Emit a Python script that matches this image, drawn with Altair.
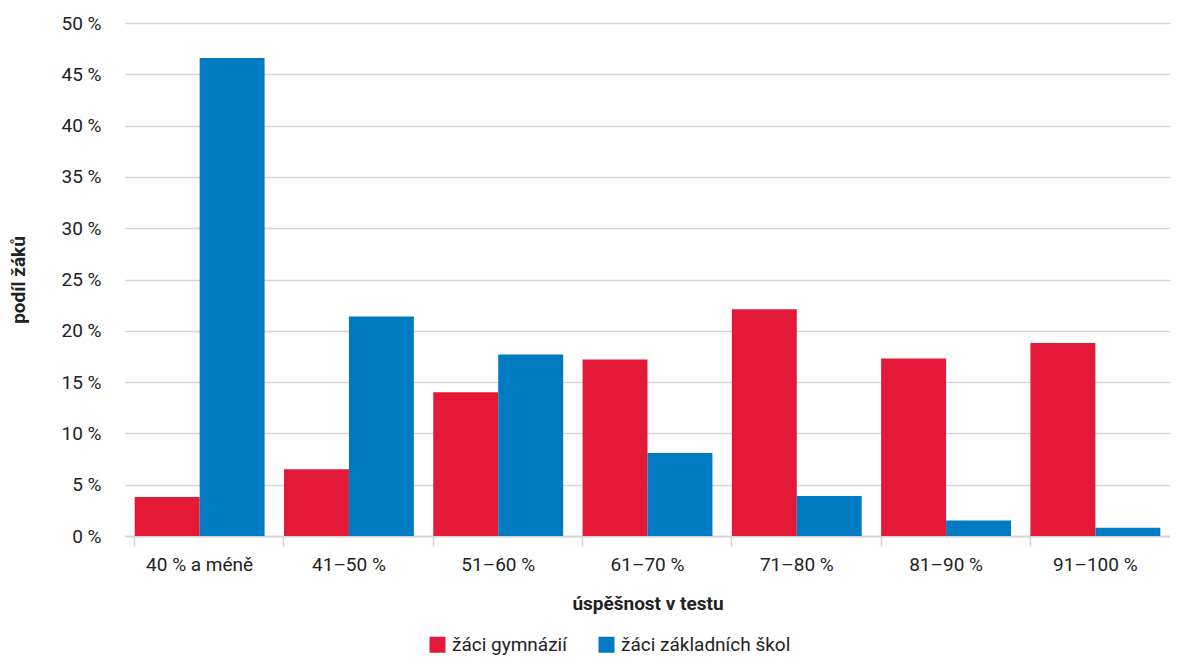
import altair as alt
import pandas as pd

categories = ["40 % a méně", "41–50 %", "51–60 %", "61–70 %", "71–80 %", "81–90 %", "91–100 %"]
series = ["žáci gymnázií", "žáci základních škol"]
gymnazia = [3.8, 6.5, 14.0, 17.2, 22.1, 17.3, 18.8]
zakladni = [46.6, 21.4, 17.7, 8.1, 3.9, 1.5, 0.8]
colors = ["#E31937", "#007BC2"]
y_ticks = [0, 5, 10, 15, 20, 25, 30, 35, 40, 45, 50]

rows = []
for c, g, z in zip(categories, gymnazia, zakladni):
    rows.append({"kat": c, "skupina": series[0], "podil": g})
    rows.append({"kat": c, "skupina": series[1], "podil": z})
df = pd.DataFrame(rows)

FONT = "Roboto, Liberation Sans Narrow, sans-serif"
xscale = alt.Scale(paddingInner=0.13, paddingOuter=0.065)

bars = alt.Chart(df).mark_bar().encode(
    x=alt.X("kat:N", sort=categories, scale=xscale, title="úspěšnost v testu",
            axis=alt.Axis(orient="bottom", labelAngle=0, ticks=False, domain=True,
                          domainColor="#d0d0d0", domainWidth=1.5, labelPadding=19,
                          titlePadding=20, grid=False)),
    xOffset=alt.XOffset("skupina:N", sort=series),
    y=alt.Y("podil:Q", scale=alt.Scale(domain=[0, 50], nice=False), title="podíl žáků",
            axis=alt.Axis(values=y_ticks, labelExpr="datum.value + ' %'", ticks=False,
                          domain=False, labelPadding=24, titlePadding=33,
                          gridColor="#d6d6d6", gridWidth=1.5)),
    color=alt.Color("skupina:N", sort=series,
                    scale=alt.Scale(domain=series, range=colors),
                    legend=alt.Legend(title=None, orient="none", direction="horizontal",
                                      legendX=303, legendY=612, symbolType="square",
                                      symbolSize=256, symbolStrokeWidth=0,
                                      labelFontSize=19, labelFont=FONT, labelColor="#222",
                                      columnPadding=30, labelOffset=5, labelLimit=400)),
)

ticks = alt.Chart(df).mark_bar(opacity=0).encode(
    x=alt.X("kat:N", sort=categories, scale=xscale, title=None,
            axis=alt.Axis(orient="bottom", labels=False, ticks=True, tickSize=10,
                          tickColor="#d0d0d0", tickWidth=1.5, domain=False,
                          bandPosition=0, grid=False)),
    y=alt.Y("podil:Q"),
)

chart = alt.layer(bars, ticks).resolve_axis(x="independent").properties(
    width=1045, height=513,
    autosize=alt.AutoSizeParams(type="none"),
    padding={"left": 117, "top": 15, "right": 0, "bottom": 122},
).configure_view(stroke=None).configure_axis(
    labelFont=FONT, labelFontSize=19, labelColor="#222",
    titleFont=FONT, titleFontSize=19, titleFontWeight="bold", titleColor="#222",
)

chart.save("out.html", embed_options={"renderer": "svg", "actions": False})
